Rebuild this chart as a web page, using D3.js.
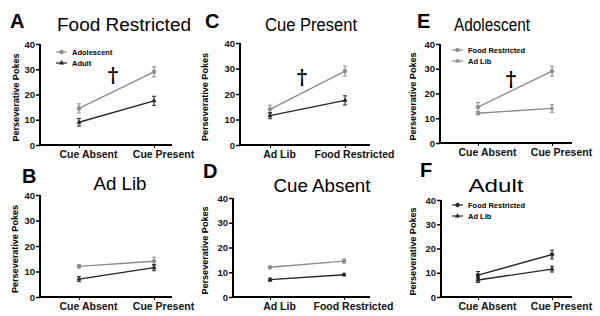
<!DOCTYPE html>
<html>
<head>
<meta charset="utf-8">
<script src="https://cdn.jsdelivr.net/npm/d3@7"></script>
<style>
  body { margin: 0; background: #fff; }
  svg { display: block; font-family: Arial, "Liberation Sans", sans-serif; }
</style>
</head>
<body>
<div id="chart"></div>
<script>
// categories
const cueLabels = ["Cue Absent", "Cue Present"];
const dietLabels = ["Ad Lib", "Food Restricted"];
const yTicks = [0, 10, 20, 30, 40];

// group means, [Cue Absent, Cue Present]
const adolescentFR = [14.5, 29];
const adultFR = [9, 17.5];
const adolescentAL = [12, 14];
const adultAL = [7, 11.5];

// SEM, [Cue Absent, Cue Present]
const adolescentFRErr = [1.8, 2];
const adultFRErr = [1.5, 1.8];
const adolescentALErr = [0.6, 1.6];
const adultALErr = [1, 1.2];

const gray = "#8c8c8c", dark = "#262626";

// panel definitions (which data goes where)
const panels = [
    {letter: "A", title: "Food Restricted", cats: cueLabels, legend: true, dagger: true,
     series: [
        {name: "Adolescent", values: adolescentFR, err: adolescentFRErr, color: gray, shape: "circle"},
        {name: "Adult", values: adultFR, err: adultFRErr, color: dark, shape: "triangle"}]},
    {letter: "B", title: "Ad Lib", cats: cueLabels,
     series: [
        {name: "Adolescent", values: adolescentAL, err: adolescentALErr, color: gray, shape: "circle"},
        {name: "Adult", values: adultAL, err: adultALErr, color: dark, shape: "triangle"}]},
    {letter: "C", title: "Cue Present", cats: dietLabels, dagger: true,
     series: [
        {name: "Adolescent", values: [adolescentAL[1], adolescentFR[1]], err: [adolescentALErr[1], adolescentFRErr[1]], color: gray, shape: "circle"},
        {name: "Adult", values: [adultAL[1], adultFR[1]], err: [adultALErr[1], adultFRErr[1]], color: dark, shape: "triangle"}]},
    {letter: "D", title: "Cue Absent", cats: dietLabels,
     series: [
        {name: "Adolescent", values: [adolescentAL[0], adolescentFR[0]], err: [0.5, 0.8], color: gray, shape: "circle"},
        {name: "Adult", values: [adultAL[0], adultFR[0]], err: [0.6, 0.4], color: dark, shape: "triangle"}]},
    {letter: "E", title: "Adolescent", cats: cueLabels, legend: true, dagger: true,
     series: [
        {name: "Food Restricted", values: adolescentFR, err: adolescentFRErr, color: gray, shape: "circle"},
        {name: "Ad Lib", values: adolescentAL, err: adolescentALErr, color: gray, shape: "triangle"}]},
    {letter: "F", title: "Adult", cats: cueLabels, legend: true,
     series: [
        {name: "Food Restricted", values: adultFR, err: adultFRErr, color: dark, shape: "circle"},
        {name: "Ad Lib", values: adultAL, err: adultALErr, color: dark, shape: "triangle"}]}
];

// layout for each panel
const layout = {
    A: {lx: 10, ly: 28, tx: 124, ty: 31, tw: 134, ax: 40, top: 44, bottom: 145, ticks: [79, 154], end: 172, yl: 16, leg: [56, 52], dag: [113, 82]},
    B: {lx: 22, ly: 183, tx: 120, ty: 190, tw: 53, ax: 40, top: 195, bottom: 297, ticks: [79, 154], end: 172, yl: 15},
    C: {lx: 205, ly: 28, tx: 311, ty: 31, tw: 92, ax: 240, top: 43, bottom: 145, ticks: [270, 345], end: 370, yl: 205, dag: [302, 84]},
    D: {lx: 203, ly: 178, tx: 322, ty: 192, tw: 97, ax: 233, top: 198, bottom: 297, ticks: [270, 344], end: 370, yl: 205},
    E: {lx: 417, ly: 28, tx: 492, ty: 31, tw: 76, ax: 440, top: 44, bottom: 143, ticks: [478, 552], end: 572, yl: 413, leg: [452, 50], dag: [511, 86]},
    F: {lx: 420, ly: 177, tx: 496, ty: 192, tw: 55, ax: 441, top: 200, bottom: 297, ticks: [478, 552], end: 572, yl: 413, leg: [452, 205]}
};

const svg = d3.select("#chart").append("svg")
    .attr("width", 600)
    .attr("height", 316);

function drawMarker(sel, shape, color, cx, cy) {
    if (shape === "circle") {
        sel.append("circle").attr("cx", cx).attr("cy", cy).attr("r", 1.8)
            .attr("fill", color).attr("stroke", color);
    } else {
        sel.append("path")
            .attr("d", d3.symbol(d3.symbolTriangle, 11)())
            .attr("transform", "translate(" + cx + "," + cy + ")")
            .attr("fill", color);
    }
}

panels.forEach(p => {
    let l = layout[p.letter];
    let g = svg.append("g");

    let x = d3.scalePoint().domain(p.cats).range(l.ticks);
    let y = d3.scaleLinear().domain([0, 40]).range([l.bottom, l.top]);

    // panel letter and title
    g.append("text").attr("x", l.lx).attr("y", l.ly)
        .style("font-size", "20px").style("font-weight", "bold")
        .text(p.letter);
    g.append("text").attr("x", l.tx).attr("y", l.ty)
        .attr("text-anchor", "middle")
        .attr("textLength", l.tw).attr("lengthAdjust", "spacingAndGlyphs")
        .style("font-size", "18px")
        .text(p.title);

    // y axis
    let yAxis = g.append("g")
        .attr("transform", "translate(" + l.ax + ",0)")
        .call(d3.axisLeft(y).tickValues(yTicks).tickSize(4).tickPadding(1));
    yAxis.select(".domain").attr("stroke-width", 2).attr("d", "M0," + (l.bottom + 1) + "V" + l.top);
    yAxis.selectAll(".tick line").attr("stroke-width", 1.5);
    yAxis.selectAll("text").style("font-size", "9.5px").style("font-weight", "bold").attr("fill", "#111");

    // x axis
    let xAxis = g.append("g")
        .attr("transform", "translate(0," + l.bottom + ")")
        .call(d3.axisBottom(x).tickSize(3).tickPadding(3));
    xAxis.select(".domain").attr("stroke-width", 2).attr("d", "M" + l.ax + ",0H" + l.end);
    xAxis.selectAll("text").style("font-size", "10.5px").style("font-weight", "bold")
        .attr("fill", "#111").attr("dx", 9);

    // y label
    g.append("text")
        .attr("transform", "translate(" + l.yl + "," + ((l.top + l.bottom) / 2 + 3) + ") rotate(-90)")
        .attr("text-anchor", "middle")
        .attr("dy", "0.35em")
        .attr("textLength", 88).attr("lengthAdjust", "spacingAndGlyphs")
        .style("font-size", "8.5px").style("font-weight", "bold")
        .text("Perseverative  Pokes");

    // series
    p.series.forEach(s => {
        let pts = p.cats.map((c, i) => ({x: x(c), v: s.values[i], e: s.err[i]}));
        g.append("path")
            .datum(pts)
            .attr("fill", "none")
            .attr("stroke", s.color)
            .attr("stroke-width", 1.4)
            .attr("d", d3.line().x(d => d.x).y(d => y(d.v)));

        pts.forEach(d => {
            g.append("path")
                .attr("d", "M" + d.x + "," + y(d.v - d.e) + "V" + y(d.v + d.e)
                    + "M" + (d.x - 2) + "," + y(d.v - d.e) + "h4"
                    + "M" + (d.x - 2) + "," + y(d.v + d.e) + "h4")
                .attr("stroke", s.color)
                .attr("stroke-width", 1);
            drawMarker(g, s.shape, s.color, d.x, y(d.v));
        });
    });

    // legend
    if (p.legend) {
        p.series.forEach((s, i) => {
            let ly = l.leg[1] + i * 11;
            g.append("line")
                .attr("x1", l.leg[0]).attr("x2", l.leg[0] + 11)
                .attr("y1", ly).attr("y2", ly)
                .attr("stroke", s.color).attr("stroke-width", 1.2);
            drawMarker(g, s.shape, s.color, l.leg[0] + 5.5, ly);
            g.append("text")
                .attr("x", l.leg[0] + 16).attr("y", ly)
                .attr("dy", "0.35em")
                .style("font-size", "7.5px").style("font-weight", "bold")
                .text(s.name);
        });
    }

    // significance dagger
    if (p.dagger) {
        g.append("text")
            .attr("x", l.dag[0]).attr("y", l.dag[1])
            .attr("text-anchor", "middle")
            .attr("fill", "#000")
            .style("font-family", "'DejaVu Serif', 'Liberation Serif', serif")
            .style("font-size", "20px").style("font-weight", "bold")
            .text("\u2020");
    }
});
</script>
</body>
</html>
